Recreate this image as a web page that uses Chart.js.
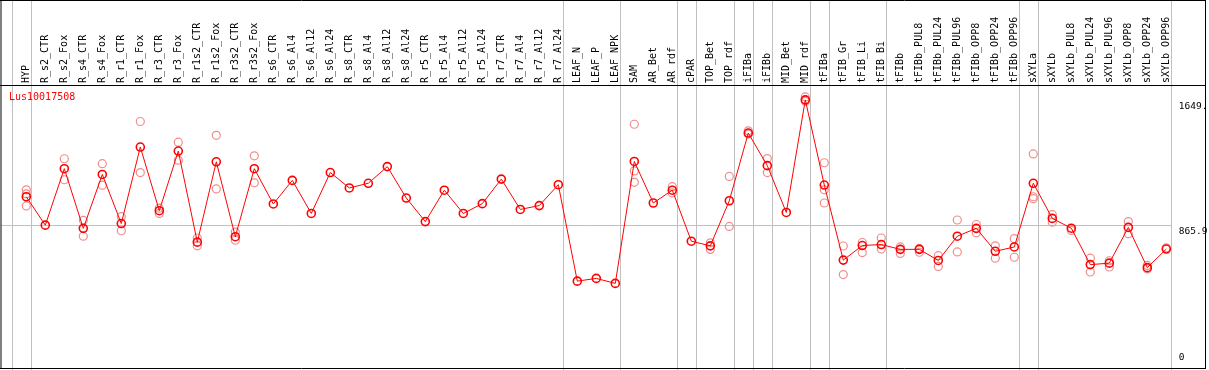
<!DOCTYPE html>
<html lang="en">
<head>
<meta charset="UTF-8">
<title>Lus10017508</title>
<script src="https://cdn.jsdelivr.net/npm/chart.js"></script>
<style>
  html, body { margin: 0; padding: 0; background: #fff; }
  #wrap { width: 1209px; height: 370px; }
</style>
</head>
<body>
<div id="wrap"><canvas id="exprChart" width="1209" height="370"></canvas></div>
<script>
const geneName = "Lus10017508";

const samples = [
  "HYP", "R_s2_CTR", "R_s2_Fox", "R_s4_CTR", "R_s4_Fox", "R_r1_CTR", "R_r1_Fox",
  "R_r3_CTR", "R_r3_Fox", "R_r1s2_CTR", "R_r1s2_Fox", "R_r3s2_CTR", "R_r3s2_Fox",
  "R_s6_CTR", "R_s6_Al4", "R_s6_Al12", "R_s6_Al24", "R_s8_CTR", "R_s8_Al4",
  "R_s8_Al12", "R_s8_Al24", "R_r5_CTR", "R_r5_Al4", "R_r5_Al12", "R_r5_Al24",
  "R_r7_CTR", "R_r7_Al4", "R_r7_Al12", "R_r7_Al24", "LEAF_N", "LEAF_P", "LEAF_NPK",
  "SAM", "AR_Bet", "AR_rdf", "cPAR", "TOP_Bet", "TOP_rdf", "iFIBa", "iFIBb",
  "MID_Bet", "MID_rdf", "tFIBa", "tFIB_Gr", "tFIB_Li", "tFIB_Bi", "tFIBb",
  "tFIBb_PUL8", "tFIBb_PUL24", "tFIBb_PUL96", "tFIBb_OPP8", "tFIBb_OPP24", "tFIBb_OPP96",
  "sXYLa", "sXYLb", "sXYLb_PUL8", "sXYLb_PUL24", "sXYLb_PUL96", "sXYLb_OPP8",
  "sXYLb_OPP24", "sXYLb_OPP96"
];

// mean expression per sample
const means = [
  1045, 868, 1220, 848, 1184, 878, 1355, 958, 1330, 762, 1263, 796, 1220,
  1000, 1147, 941, 1196, 1100, 1129, 1233, 1037, 890, 1086, 941, 1002,
  1155, 966, 990, 1120, 519, 536, 505,
  1265, 1006, 1086, 768, 739, 1020, 1442, 1239, 947, 1649,
  1118, 650, 741, 747, 717, 717, 648, 799, 848, 705, 732,
  1129, 910, 849, 622, 631, 854, 603, 719
];

// individual replicates (null where none is drawn)
const rep1 = [
  1088, null, 1282, 898, 1251, 921, 1514, 974, 1385, 788, 1428, 825, 1300,
  null, null, null, null, null, null, null, null, null, null, null, null,
  null, null, null, null, null, null, null,
  1497, null, 1108, null, 758, 1172, 1456, 1283, null, 1667,
  1257, 738, 760, 788, 732, 723, 678, 900, 872, 739, 784,
  1312, 933, 835, 662, 646, 890, 617, 727
];
const rep2 = [
  1063, null, 1151, 799, 1117, 833, 1196, 941, 1273, 739, 1094, 774, 1132,
  null, null, null, null, null, null, null, null, null, null, null, null,
  null, null, null, null, null, null, null,
  1206, null, 1069, null, 717, 860, 1436, 1196, null, 1640,
  1088, 560, 697, 719, 692, 699, 611, 701, 821, 662, 668,
  1045, 886, null, 576, 607, 815, 595, null
];
const rep3 = [
  988, null, null, null, null, null, null, null, null, null, null, null, null,
  null, null, null, null, null, null, null, null, null, null, null, null,
  null, null, null, null, null, null, null,
  1135, null, null, null, null, null, null, null, null, null,
  1006, null, null, null, null, null, null, null, null, null, null,
  1033, null, null, null, null, null, null, null
];

const yTicks = [0, 865.9, 1649];
const groupEnds = [-1, 0, 28, 31, 34, 35, 37, 38, 39, 41, 42, 45, 52, 53, 60];
const gridValue = 865.9;

const monoFamily = '"DejaVu Sans Mono", "Liberation Mono", monospace';

function tickText(v) {
  return v === 0 ? "0" : v.toFixed(1).slice(0, 5);
}

const decor = {
  id: 'decor',
  beforeDatasetsDraw(chart) {
    const { ctx, chartArea, scales: { x, y } } = chart;
    ctx.save();
    ctx.strokeStyle = '#c0c0c0';
    ctx.lineWidth = 1;
    let lastX = chartArea.right;
    groupEnds.forEach(i => {
      const px = Math.round(x.getPixelForValue(i + 0.23)) + 0.5;
      lastX = px;
      ctx.beginPath();
      ctx.moveTo(px, 0);
      ctx.lineTo(px, chart.height);
      ctx.stroke();
    });
    const gy = Math.round(y.getPixelForValue(gridValue)) + 0.5;
    ctx.beginPath();
    ctx.moveTo(1, gy);
    ctx.lineTo(lastX, gy);
    ctx.stroke();
    ctx.restore();
  },
  afterDraw(chart) {
    const { ctx, chartArea, scales: { y } } = chart;
    ctx.save();
    // frame
    ctx.strokeStyle = '#000';
    ctx.lineWidth = 1;
    ctx.beginPath();
    ctx.moveTo(0, 0.5); ctx.lineTo(1206, 0.5);
    ctx.moveTo(0, chartArea.top + 0.5); ctx.lineTo(1206, chartArea.top + 0.5);
    ctx.moveTo(0, 368.5); ctx.lineTo(1206, 368.5);
    ctx.moveTo(1, 0); ctx.lineTo(1, 369);
    ctx.moveTo(1205.5, 0); ctx.lineTo(1205.5, 369);
    ctx.stroke();

    // right-hand value labels
    ctx.font = '9.5px ' + monoFamily;
    ctx.fillStyle = '#000';
    ctx.textBaseline = 'top';
    ctx.textAlign = 'left';
    yTicks.forEach(v => {
      let py = y.getPixelForValue(v) + 1.5;
      py = Math.min(py, chartArea.bottom - 12);
      ctx.fillText(tickText(v), chartArea.right + 3, py);
    });

    // gene name
    ctx.font = '10px ' + monoFamily;
    ctx.fillStyle = '#ff0000';
    ctx.textBaseline = 'middle';
    ctx.fillText(geneName, 9, chartArea.top + 12);
    ctx.restore();
  }
};

const repStyle = {
  showLine: false,
  pointStyle: 'circle',
  pointRadius: 4,
  pointBorderWidth: 1.2,
  pointBorderColor: '#f08c8c',
  pointBackgroundColor: 'rgba(0,0,0,0)'
};

new Chart(document.getElementById('exprChart'), {
  type: 'line',
  data: {
    labels: samples,
    datasets: [
      {
        label: 'mean',
        data: means,
        borderColor: '#ff0000',
        borderWidth: 1,
        tension: 0,
        pointStyle: 'circle',
        pointRadius: 4,
        pointBorderWidth: 1.6,
        pointBorderColor: '#ff0000',
        pointBackgroundColor: 'rgba(0,0,0,0)'
      },
      Object.assign({ label: 'rep1', data: rep1 }, repStyle),
      Object.assign({ label: 'rep2', data: rep2 }, repStyle),
      Object.assign({ label: 'rep3', data: rep3 }, repStyle)
    ]
  },
  options: {
    responsive: false,
    animation: false,
    layout: { padding: { left: 16.8, right: 0, top: 0, bottom: 0 } },
    plugins: { legend: { display: false }, tooltip: { enabled: false } },
    scales: {
      x: {
        type: 'category',
        position: 'top',
        offset: true,
        grid: { display: false, drawTicks: false },
        border: { display: false },
        ticks: {
          autoSkip: false,
          minRotation: 90,
          maxRotation: 90,
          padding: 2,
          labelOffset: 12,
          color: '#000',
          font: { family: monoFamily, size: 10 }
        },
        afterFit(scale) { scale.height = 85; }
      },
      y: {
        position: 'right',
        min: 0,
        max: 1741.6,
        afterBuildTicks(scale) { scale.ticks = yTicks.map(v => ({ value: v })); },
        ticks: { display: false },
        grid: { display: false, drawTicks: false },
        border: { display: false },
        afterFit(scale) { scale.width = 33.2; }
      }
    }
  },
  plugins: [decor]
});
</script>
</body>
</html>
